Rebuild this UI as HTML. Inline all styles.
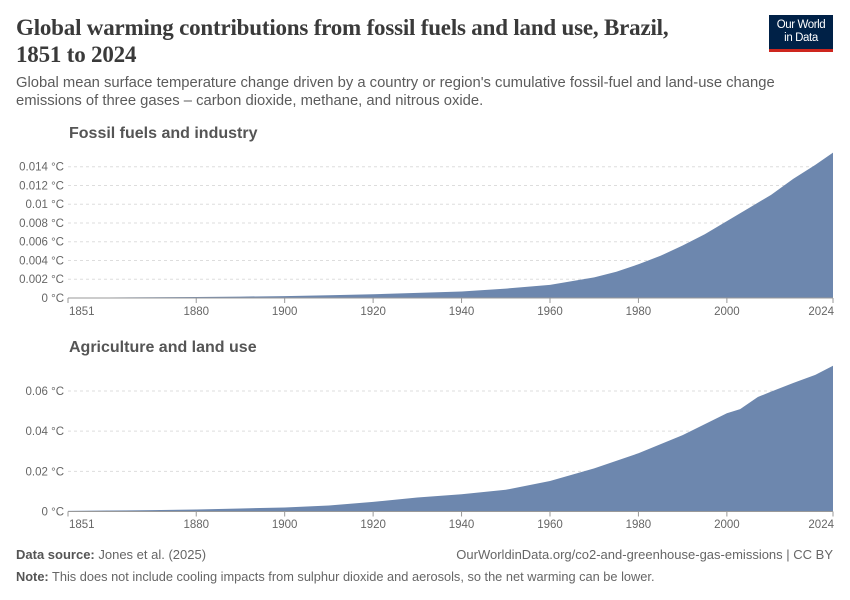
<!DOCTYPE html>
<html><head><meta charset="utf-8">
<style>
body{margin:0;background:#fff;font-family:"Liberation Sans",sans-serif;}
#wrap{position:relative;width:850px;height:600px;overflow:hidden;}
.t{position:absolute;white-space:nowrap;}
</style></head>
<body>
<div id="wrap">
<div class="t" style="left:16px;top:14px;font-family:'Liberation Serif',serif;font-size:23px;font-weight:bold;color:#3a3a3a;line-height:27px;letter-spacing:-0.2px">Global warming contributions from fossil fuels and land use, Brazil,<br>1851 to 2024</div>
<div class="t" style="left:769px;top:15px;width:64px;background:#002147;border-bottom:3px solid #ce261e;color:#fff;font-size:11.5px;line-height:13px;text-align:center;padding-top:4px;height:30px;letter-spacing:-0.4px">Our World<br>in Data</div>
<div class="t" style="left:16px;top:74px;font-size:14.8px;color:#5b5b5b;line-height:18px">Global mean surface temperature change driven by a country or region's cumulative fossil-fuel and land-use change<br>emissions of three gases – carbon dioxide, methane, and nitrous oxide.</div>
<svg id="svg" width="850" height="600" style="position:absolute;left:0;top:0"></svg>
<div class="t" style="left:16px;top:547px;font-size:13px;color:#666"><b style="color:#555">Data source:</b> Jones et al. (2025)</div>
<div class="t" style="right:17px;top:547px;font-size:13px;color:#666">OurWorldinData.org/co2-and-greenhouse-gas-emissions | CC BY</div>
<div class="t" style="left:16px;top:569px;font-size:12.8px;color:#666"><b style="color:#555">Note:</b> This does not include cooling impacts from sulphur dioxide and aerosols, so the net warming can be lower.</div>
</div>
<script>
const fossilYears=[1851,1860,1870,1880,1890,1900,1910,1920,1930,1940,1950,1960,1970,1975,1980,1985,1990,1995,2000,2005,2010,2015,2020,2024];
const fossilValues=[0.00003,0.00005,0.00008,0.0001,0.00015,0.0002,0.0003,0.0004,0.00055,0.0007,0.001,0.0014,0.0022,0.0028,0.0036,0.0045,0.0056,0.0068,0.0082,0.0096,0.011,0.0127,0.0142,0.0155];
const fossilTicks=[0,0.002,0.004,0.006,0.008,0.01,0.012,0.014];
const fossilTickLabels=["0 °C","0.002 °C","0.004 °C","0.006 °C","0.008 °C","0.01 °C","0.012 °C","0.014 °C"];
const landYears=[1851,1860,1870,1880,1890,1900,1910,1920,1930,1940,1950,1960,1970,1980,1990,2000,2003,2007,2010,2015,2020,2024];
const landValues=[0.0003,0.0005,0.0007,0.001,0.0015,0.002,0.003,0.0048,0.007,0.0086,0.0108,0.0152,0.0215,0.029,0.038,0.0489,0.051,0.057,0.0597,0.064,0.068,0.0726];
const landTicks=[0,0.02,0.04,0.06];
const landTickLabels=["0 °C","0.02 °C","0.04 °C","0.06 °C"];
const xTicks=[1851,1880,1900,1920,1940,1960,1980,2000,2024];

const NS="http://www.w3.org/2000/svg";
const svg=document.getElementById('svg');
function mk(tag,attrs,parent){const e=document.createElementNS(NS,tag);for(const k in attrs)e.setAttribute(k,attrs[k]);(parent||svg).appendChild(e);return e;}
const x0=68,x1=833;
function xs(y){return x0+(y-1851)/(2024-1851)*(x1-x0);}
function panel(name,title,titleY,yBase,yTopPx,topVal,years,vals,ticks,labels,xLabY){
  const g=mk('g',{});
  
  
  const ys=v=>yBase-v/topVal*(yBase-yTopPx);
  const tt=mk('text',{x:69,y:titleY,'font-size':16,fill:'#555','font-weight':'bold','font-family':'Liberation Sans, sans-serif'},g);
  tt.textContent=title;
  
  
  ticks.forEach((t,i)=>{
    if(i>0){const l=mk('line',{x1:x0,x2:x1,y1:ys(t),y2:ys(t),stroke:'#ddd','stroke-dasharray':'3,3'},g);
    
    }
    const lb=mk('text',{x:64,y:ys(t)+4,'font-size':11.5,fill:'#666','text-anchor':'end'},g);
    lb.textContent=labels[i];
    
    
  });
  let d='M'+xs(years[0])+','+yBase;
  years.forEach((y,i)=>{d+=' L'+xs(y).toFixed(2)+','+ys(vals[i]).toFixed(2);});
  d+=' L'+xs(years[years.length-1])+','+yBase+' Z';
  const a=mk('path',{d:d,fill:'#6d87ae'},g);
  
  
  const ax=mk('line',{x1:x0,x2:x1,y1:yBase,y2:yBase,stroke:'#999'},g);
  
  
  xTicks.forEach((t,i)=>{
    const tk=mk('line',{x1:xs(t),x2:xs(t),y1:yBase,y2:yBase+5,stroke:'#999'},g);
    
    
    const anchor=i==0?'start':(i==xTicks.length-1?'end':'middle');
    const lb=mk('text',{x:i==0?xs(t)+1:(i==xTicks.length-1?xs(t)+1:xs(t)),y:xLabY,'font-size':11.5,fill:'#666','text-anchor':anchor},g);
    lb.textContent=String(t);
    
    
  });
}
panel('fossil','Fossil fuels and industry',138,298,166.7,0.014,fossilYears,fossilValues,fossilTicks,fossilTickLabels,315);
panel('land','Agriculture and land use',352,511.5,391,0.06,landYears,landValues,landTicks,landTickLabels,528);
</script>
</body></html>
